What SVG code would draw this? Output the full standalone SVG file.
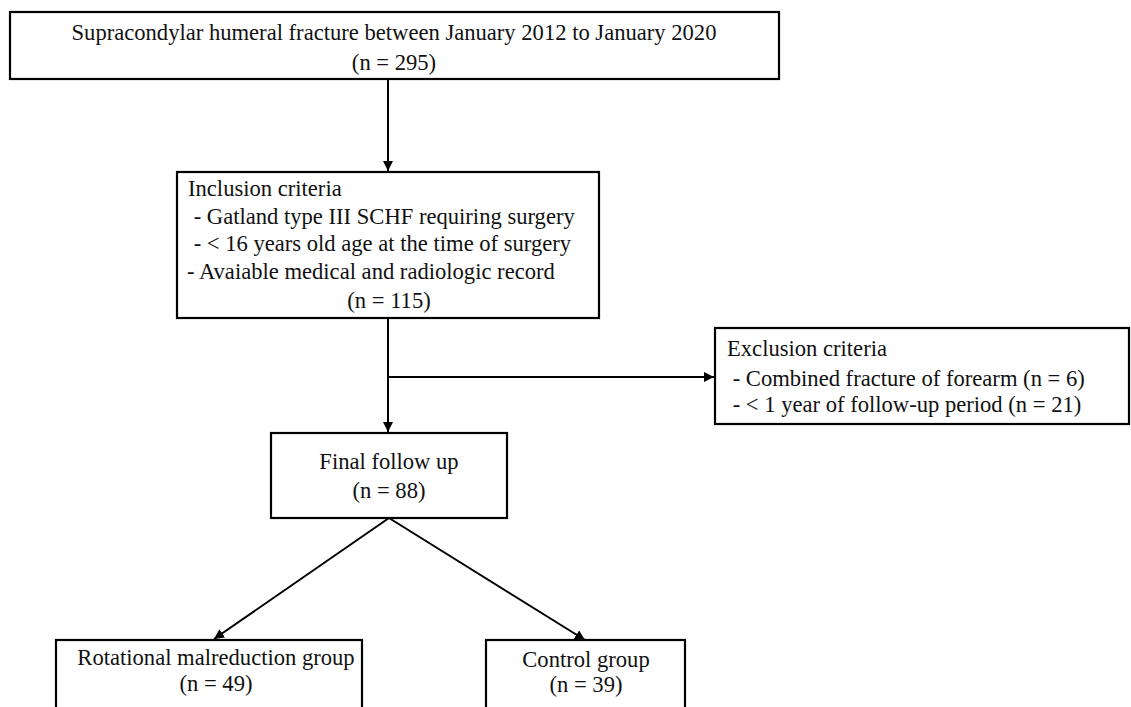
<svg xmlns="http://www.w3.org/2000/svg" width="1131" height="707" viewBox="0 0 1131 707">
<style>
.box{fill:#fff;stroke:#000;stroke-width:2.2}
.t{font-family:"Liberation Serif","Times New Roman",serif;font-size:22.6px;fill:#111}
.c{text-anchor:middle}
.ln{stroke:#000;stroke-width:2;fill:none}
</style>
<defs>
<marker id="ah" viewBox="0 0 10 10" refX="10" refY="5" markerWidth="5" markerHeight="5" orient="auto" markerUnits="strokeWidth">
<path d="M0,0 L10,5 L0,10 z" fill="#000"/>
</marker>
</defs>
<rect width="1131" height="707" fill="#fff"/>
<g id="connectors">
<line class="ln" x1="388" y1="80" x2="388" y2="171" marker-end="url(#ah)"/>
<line class="ln" x1="388" y1="318" x2="388" y2="432" marker-end="url(#ah)"/>
<line class="ln" x1="388" y1="377" x2="714" y2="377" marker-end="url(#ah)"/>
<line class="ln" x1="389" y1="518" x2="214" y2="639" marker-end="url(#ah)"/>
<line class="ln" x1="389" y1="518" x2="585" y2="640" marker-end="url(#ah)"/>
</g>
<g id="n1">
<rect class="box" x="10" y="12" width="769" height="67"/>
<text class="t c" x="394" y="40">Supracondylar humeral fracture between January 2012 to January 2020</text>
<text class="t c" x="394" y="70">(n = 295)</text>
</g>
<g id="n2">
<rect class="box" x="177" y="172" width="422" height="146"/>
<text class="t" x="188" y="196">Inclusion criteria</text>
<text class="t" x="188" y="224" xml:space="preserve"> - Gatland type III SCHF requiring surgery</text>
<text class="t" x="188" y="251" xml:space="preserve"> - &lt; 16 years old age at the time of surgery</text>
<text class="t" x="187" y="279">- Avaiable medical and radiologic record</text>
<text class="t c" x="389" y="308">(n = 115)</text>
</g>
<g id="n3">
<rect class="box" x="715" y="328" width="414" height="96"/>
<text class="t" x="727" y="356">Exclusion criteria</text>
<text class="t" x="727" y="386" xml:space="preserve"> - Combined fracture of forearm (n = 6)</text>
<text class="t" x="727" y="412" xml:space="preserve"> - &lt; 1 year of follow-up period (n = 21)</text>
</g>
<g id="n4">
<rect class="box" x="271" y="433" width="236" height="85"/>
<text class="t c" x="389" y="469">Final follow up</text>
<text class="t c" x="389" y="498">(n = 88)</text>
</g>
<g id="n5">
<rect class="box" x="56" y="640" width="306" height="80"/>
<text class="t c" x="216" y="665">Rotational malreduction group</text>
<text class="t c" x="216" y="691">(n = 49)</text>
</g>
<g id="n6">
<rect class="box" x="486" y="640" width="199" height="80"/>
<text class="t c" x="586" y="667">Control group</text>
<text class="t c" x="586" y="692">(n = 39)</text>
</g>
</svg>
